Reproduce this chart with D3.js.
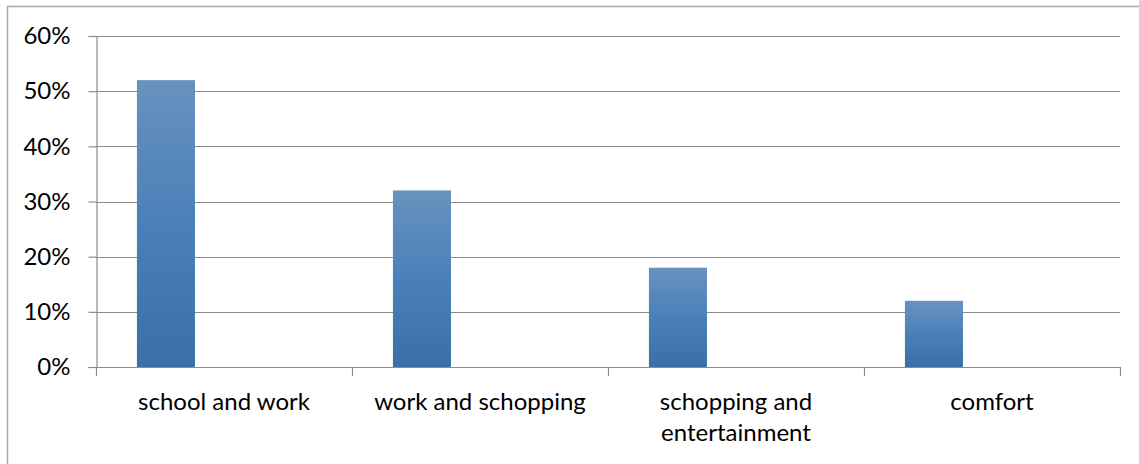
<!DOCTYPE html>
<html>
<head>
<meta charset="utf-8">
<script src="https://cdn.jsdelivr.net/npm/d3@7"></script>
<style>
  html, body { margin: 0; padding: 0; background: #fff; }
  svg { display: block; }
  text { font-family: Lato, "Open Sans", sans-serif; fill: #000; }
</style>
</head>
<body>
<svg id="chart" width="1139" height="464"></svg>
<script>
// Share of trips by purpose
const categories = ["school and work", "work and schopping", "schopping and entertainment", "comfort"];
const labelLines = [["school and work"], ["work and schopping"], ["schopping and", "entertainment"], ["comfort"]];
const values = [0.52, 0.32, 0.18, 0.12];
const yTicks = [0, 0.1, 0.2, 0.3, 0.4, 0.5, 0.6];
// the chart reserves three bar slots per category; only the first holds data
const seriesSlots = ["s1", "s2", "s3"];

const svg = d3.select("#chart");
const margin = { left: 96, right: 1120, top: 36, bottom: 367 };
const fontSize = "24px";

// chart frame (top and left edges visible)
svg.append("path")
  .attr("d", `M7.5,464 L7.5,6.5 L1139,6.5`)
  .attr("fill", "none")
  .attr("stroke", "#a6a6a6")
  .attr("stroke-width", 1.5);

const x = d3.scaleBand().domain(categories).range([margin.left, margin.right]).paddingInner(0).paddingOuter(0);
const xInner = d3.scaleBand().domain(seriesSlots).range([0, x.bandwidth()]).paddingInner(0).paddingOuter(0.705);
const y = d3.scaleLinear().domain([0, 0.6]).range([margin.bottom, margin.top]);

// gradient fill for bars
const defs = svg.append("defs");
const grad = defs.append("linearGradient").attr("id", "barGrad")
  .attr("x1", 0).attr("y1", 0).attr("x2", 0).attr("y2", 1);
grad.append("stop").attr("offset", "0%").attr("stop-color", "#6892be");
grad.append("stop").attr("offset", "50%").attr("stop-color", "#4a80b9");
grad.append("stop").attr("offset", "100%").attr("stop-color", "#3b6fa6");

// gridlines
svg.append("g").selectAll("line").data(yTicks.filter(d => d > 0)).join("line")
  .attr("x1", margin.left).attr("x2", margin.right)
  .attr("y1", d => Math.round(y(d)) + 0.5).attr("y2", d => Math.round(y(d)) + 0.5)
  .attr("stroke", "#8c8c8c").attr("stroke-width", 1.2);

// y axis
const yAxis = d3.axisLeft(y).tickValues(yTicks).tickFormat(d3.format(".0%")).tickSize(8).tickPadding(18);
const gy = svg.append("g").attr("transform", `translate(${margin.left + 0.5},0)`).call(yAxis);
gy.select(".domain").attr("stroke", "#8c8c8c").attr("stroke-width", 1.2);
gy.selectAll(".tick line").attr("stroke", "#8c8c8c").attr("stroke-width", 1.2);
gy.selectAll(".tick text").style("font-size", fontSize).style("font-family", "Lato, sans-serif").attr("fill", "#000");

// bars
svg.append("g").selectAll("rect").data(values).join("rect")
  .attr("x", (d, i) => x(categories[i]) + xInner("s1"))
  .attr("width", xInner.bandwidth())
  .attr("y", d => y(d))
  .attr("height", d => y(0) - y(d))
  .attr("fill", "url(#barGrad)");

// x axis baseline with category boundary ticks
svg.append("line")
  .attr("x1", margin.left).attr("x2", margin.right)
  .attr("y1", margin.bottom + 0.5).attr("y2", margin.bottom + 0.5)
  .attr("stroke", "#8c8c8c").attr("stroke-width", 1.2);
const bounds = categories.map(c => x(c)).concat([margin.right]);
svg.append("g").selectAll("line").data(bounds).join("line")
  .attr("x1", d => Math.round(d) + 0.5).attr("x2", d => Math.round(d) + 0.5)
  .attr("y1", margin.bottom).attr("y2", margin.bottom + 9)
  .attr("stroke", "#8c8c8c").attr("stroke-width", 1.2);

// category labels
const lab = svg.append("g").selectAll("text").data(categories).join("text")
  .attr("x", c => x(c) + x.bandwidth() / 2)
  .attr("y", 410)
  .attr("text-anchor", "middle")
  .style("font-size", fontSize);
lab.selectAll("tspan").data((c, i) => labelLines[i]).join("tspan")
  .attr("x", function() { return d3.select(this.parentNode).attr("x"); })
  .attr("dy", (d, j) => j === 0 ? 0 : 31)
  .text(d => d);
</script>
</body>
</html>
